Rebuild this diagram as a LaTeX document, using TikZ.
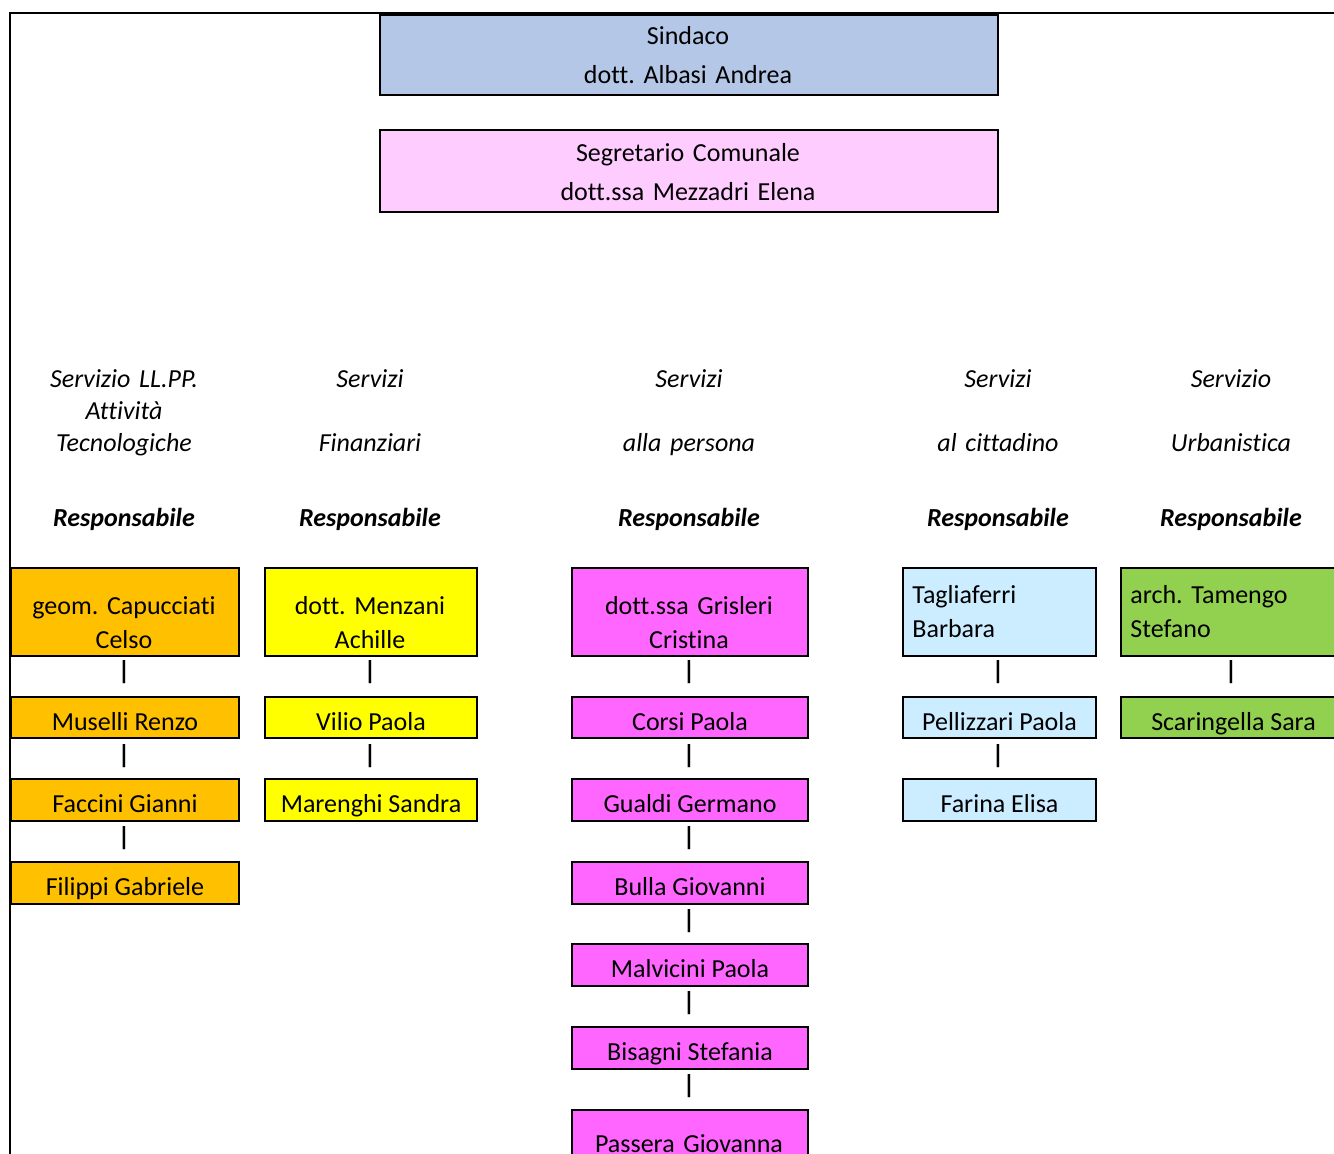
\documentclass[tikz,border=0pt]{standalone}
\usepackage{fontspec}
\setmainfont{Carlito}[Ligatures=NoCommon]
\usepackage{tikz}
\frenchspacing
\definecolor{sindacoblue}{HTML}{B4C7E7}
\definecolor{segretariopink}{HTML}{FFCCFF}
\definecolor{llppyellow}{HTML}{FFC000}
\definecolor{finyellow}{HTML}{FFFF00}
\definecolor{personamagenta}{HTML}{FF66FF}
\definecolor{cittadinoblue}{HTML}{CCECFF}
\definecolor{urbgreen}{HTML}{92D050}

\tikzset{
  cellbox/.style={draw, line width=1pt, inner sep=0pt, anchor=north west},
  riga/.style={cellbox, minimum height=20.75pt, text height=12.75pt, text depth=0pt},
  nome/.style={anchor=base, inner sep=0pt, text width=#1, align=center},
  nome/.default=110pt,
  titolo/.style={anchor=base, inner sep=0pt, text width=120pt, align=center, font=\fontsize{13}{16}\selectfont\itshape},
  resp/.style={anchor=base, inner sep=0pt, font=\fontsize{13}{16}\selectfont\bfseries\itshape},
  sep/.style={inner sep=0pt, font=\fontsize{13}{16}\selectfont\bfseries}
}

\begin{document}
\begin{tikzpicture}[x=0.5pt, y=-0.5pt, every node/.style={font=\fontsize{13}{16.75}\selectfont}]
    \useasboundingbox (0,0) rectangle (1334,1154);
    \clip (0,0) rectangle (1334,1154);
    \fill[white] (0,0) rectangle (1334,1154);
    % cornice
    \draw[line width=0.75pt] (10,1160) -- (10,13) -- (1340,13);

    % vertice
    \node[cellbox, fill=sindacoblue, minimum width=309pt, minimum height=40pt] (sindaco) at (379,14) {};
    \node[nome=300pt] (sindaco-t) at (688,45) {Sindaco\\[2.75pt]dott. Albasi Andrea};
    \node[cellbox, fill=segretariopink, minimum width=309pt, minimum height=41pt] (segretario) at (379,129) {};
    \node[nome=300pt] (segretario-t) at (688,162) {Segretario Comunale\\[2.75pt]dott.ssa Mezzadri Elena};

    % intestazioni dei servizi
    \node[titolo] (llpp) at (124,388) {Servizio LL.PP.\\Attività\\Tecnologiche};
    \node[titolo] (fin) at (370,388) {Servizi\\[16pt]Finanziari};
    \node[titolo] (persona) at (689,388) {Servizi\\[16pt]alla persona};
    \node[titolo] (cittadino) at (998,388) {Servizi\\[16pt]al cittadino};
    \node[titolo] (urb) at (1231,388) {Servizio\\[16pt]Urbanistica};
    \node[resp] (resp-llpp) at (124,527) {Responsabile};
    \node[resp] (resp-fin) at (370,527) {Responsabile};
    \node[resp] (resp-persona) at (689,527) {Responsabile};
    \node[resp] (resp-cittadino) at (998,527) {Responsabile};
    \node[resp] (resp-urb) at (1231,527) {Responsabile};

    % Servizio LL.PP.
    \node[cellbox, fill=llppyellow, minimum width=114pt, minimum height=44pt] (capucciati) at (10,567) {};
    \node[nome] (capucciati-t) at (124,615) {geom. Capucciati\\Celso};
    \node[riga, fill=llppyellow, minimum width=114pt] (muselli) at (10,696) {Muselli Renzo};
    \node[riga, fill=llppyellow, minimum width=114pt] (faccini) at (10,778) {Faccini Gianni};
    \node[riga, fill=llppyellow, minimum width=114pt] (filippi) at (10,861) {Filippi Gabriele};
    \node[sep] (sep-llpp-1) at (124,672.5) {|};
    \node[sep] (sep-llpp-2) at (124,756) {|};
    \node[sep] (sep-llpp-3) at (124,838) {|};

    % Servizi Finanziari
    \node[cellbox, fill=finyellow, minimum width=106pt, minimum height=44pt] (menzani) at (264,567) {};
    \node[nome] (menzani-t) at (370,615) {dott. Menzani\\Achille};
    \node[riga, fill=finyellow, minimum width=106pt] (vilio) at (264,696) {Vilio Paola};
    \node[riga, fill=finyellow, minimum width=106pt] (marenghi) at (264,778) {Marenghi Sandra};
    \node[sep] (sep-fin-1) at (370,672.5) {|};
    \node[sep] (sep-fin-2) at (370,756) {|};

    % Servizi alla persona
    \node[cellbox, fill=personamagenta, minimum width=118pt, minimum height=44pt] (grisleri) at (571,567) {};
    \node[nome] (grisleri-t) at (689,615) {dott.ssa Grisleri\\Cristina};
    \node[riga, fill=personamagenta, minimum width=118pt] (corsi) at (571,696) {Corsi Paola};
    \node[riga, fill=personamagenta, minimum width=118pt] (gualdi) at (571,778) {Gualdi Germano};
    \node[riga, fill=personamagenta, minimum width=118pt] (bulla) at (571,861) {Bulla Giovanni};
    \node[riga, fill=personamagenta, minimum width=118pt] (malvicini) at (571,943) {Malvicini Paola};
    \node[riga, fill=personamagenta, minimum width=118pt] (bisagni) at (571,1026) {Bisagni Stefania};
    \node[cellbox, fill=personamagenta, minimum width=118pt, minimum height=40pt] (passera) at (571,1109) {};
    \node[nome] (passera-t) at (689,1152) {Passera Giovanna};
    \node[sep] (sep-persona-1) at (689,672.5) {|};
    \node[sep] (sep-persona-2) at (689,756) {|};
    \node[sep] (sep-persona-3) at (689,838) {|};
    \node[sep] (sep-persona-4) at (689,921) {|};
    \node[sep] (sep-persona-5) at (689,1003) {|};
    \node[sep] (sep-persona-6) at (689,1086) {|};

    % Servizi al cittadino
    \node[cellbox, fill=cittadinoblue, minimum width=96.5pt, minimum height=44pt] (tagliaferri) at (902,567) {};
    \node[nome=90pt, anchor=base west, align=left] (tagliaferri-t) at (912,604) {Tagliaferri\\Barbara};
    \node[riga, fill=cittadinoblue, minimum width=96.5pt] (pellizzari) at (902,696) {Pellizzari Paola};
    \node[riga, fill=cittadinoblue, minimum width=96.5pt] (farina) at (902,778) {Farina Elisa};
    \node[sep] (sep-cittadino-1) at (998,672.5) {|};
    \node[sep] (sep-cittadino-2) at (998,756) {|};

    % Servizio Urbanistica
    \node[cellbox, fill=urbgreen, minimum width=112.5pt, minimum height=44pt] (tamengo) at (1120,567) {};
    \node[nome=100pt, anchor=base west, align=left] (tamengo-t) at (1130,604) {arch. Tamengo\\Stefano};
    \node[riga, fill=urbgreen, minimum width=112.5pt] (scaringella) at (1120,696) {Scaringella Sara};
    \node[sep] (sep-urb-1) at (1231,672.5) {|};
\end{tikzpicture}
\end{document}
